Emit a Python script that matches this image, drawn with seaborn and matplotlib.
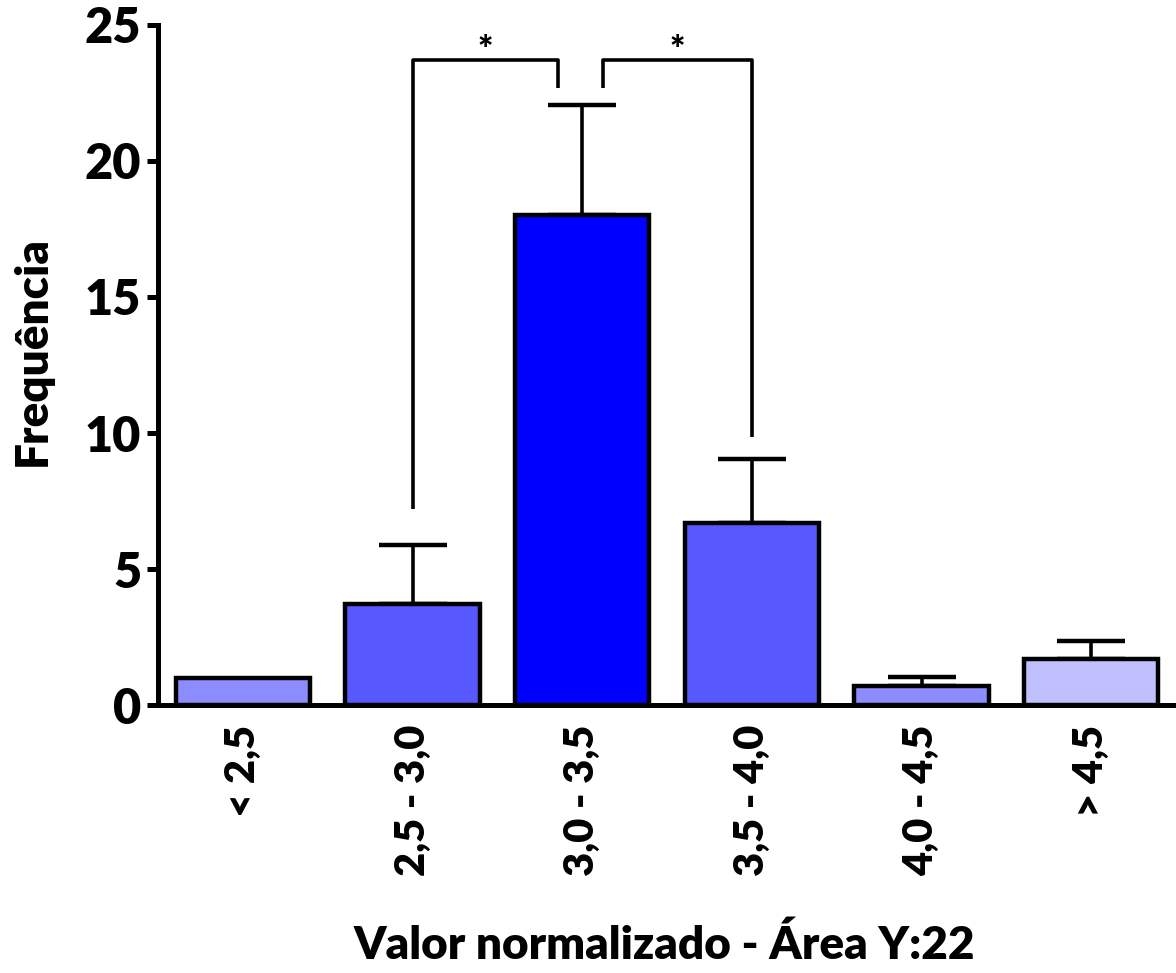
import matplotlib
matplotlib.use("Agg")
import matplotlib.pyplot as plt
import seaborn as sns
import numpy as np
import pandas as pd

categories = ["< 2,5", "2,5 - 3,0", "3,0 - 3,5", "3,5 - 4,0", "4,0 - 4,5", "> 4,5"]
values = [1.0, 3.7, 18.0, 6.7, 0.7, 1.7]
errors = [0.0, 2.2, 4.05, 2.35, 0.33, 0.67]
colors = ["#8C8CFF", "#5858FF", "#0000FF", "#5858FF", "#8C8CFF", "#C0C0FF"]
yticks = [0, 5, 10, 15, 20, 25]

sns.set_style("ticks")
plt.rcParams['font.family'] = ['Lato', 'DejaVu Sans']
plt.rcParams['font.weight'] = 'heavy'
plt.rcParams['text.color'] = 'black'
plt.rcParams['axes.labelcolor'] = 'black'
plt.rcParams['xtick.color'] = 'black'
plt.rcParams['ytick.color'] = 'black'
plt.rcParams['axes.edgecolor'] = 'black'

W = 'heavy'
fig = plt.figure(figsize=(11.76, 9.73), dpi=100)
ax = fig.add_axes([158/1176, (973-705)/973, 1 - 158/1176, (705-25)/973])

df = pd.DataFrame({"cat": categories, "val": values})
sns.barplot(data=df, x="cat", y="val", hue="cat", palette=colors, legend=False,
            width=0.79, edgecolor="black", linewidth=3.2, saturation=1, ax=ax, zorder=3)

xs = np.arange(len(categories))
for x, v, e in zip(xs, values, errors):
    if e > 0:
        ax.errorbar([x], [v], yerr=[[0], [e]], fmt="none", ecolor="black",
                    elinewidth=2.6, capsize=24.5, capthick=3.2, zorder=2)

ax.set_xlim(-0.5, 5.5)
ax.set_ylim(0, 25)
ax.set_yticks(yticks)
ax.set_xticks(xs)
ax.set_xticklabels(categories, rotation=90, fontsize=30, fontweight=W)
ax.tick_params(axis='y', labelsize=35, width=3.6, length=8, direction='out', pad=4)
ax.tick_params(axis='x', length=0, pad=14)
for lab in ax.get_yticklabels():
    lab.set_fontweight(W)
for s in ["top", "right"]:
    ax.spines[s].set_visible(False)
for s in ["left", "bottom"]:
    ax.spines[s].set_linewidth(3.6)
ax.set_ylabel("Frequência", fontsize=33, fontweight=W)
ax.yaxis.set_label_coords(-0.124, 0.52)
ax.yaxis.label.set_va('center')
ax.set_xlabel("Valor normalizado - Área Y:22", fontsize=33, fontweight=W)
ax.xaxis.set_label_coords(0.4975, -0.353)
ax.xaxis.label.set_va('center')

# significance brackets
lw = 2.6
def bracket(x1, y1, x2, y2, ytop, star_x):
    ax.plot([x1, x1, x2, x2], [y1, ytop, ytop, y2], color="black", lw=lw,
            solid_capstyle="butt", clip_on=False, zorder=4)
    ax.text(star_x, 24.05, "*", ha="center", va="center", fontsize=26,
            fontweight=W, clip_on=False)

bracket(1, 7.2, 1.86, 22.7, 23.7, (1 + 1.86) / 2)
bracket(2.12, 22.7, 3, 9.85, 23.7, (2.12 + 3) / 2)

fig.savefig("out.png", dpi=100)
